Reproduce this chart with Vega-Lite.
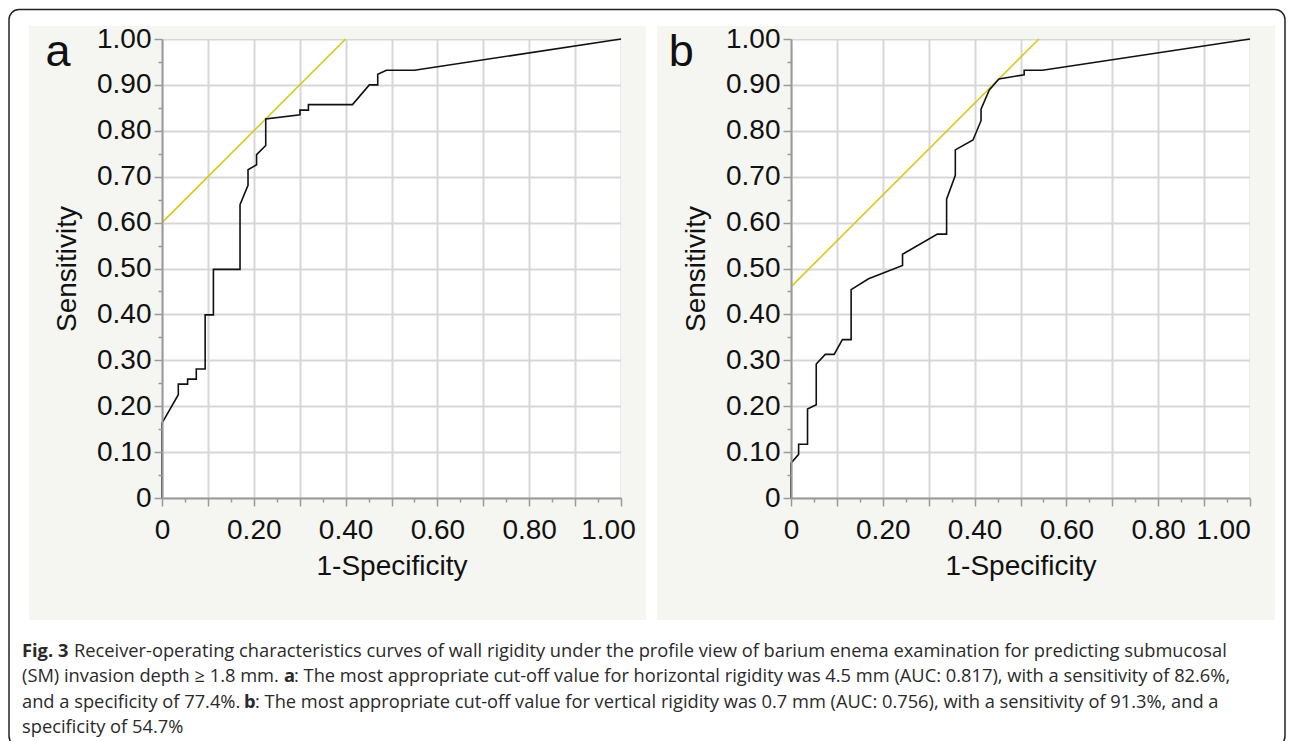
{
  "$schema": "https://vega.github.io/schema/vega-lite/v6.json",
  "background": "white",
  "padding": {"left": 8, "top": 8, "right": 8, "bottom": 0},
  "autosize": {"type": "pad"},
  "bounds": "flush",
  "columns": 2,
  "spacing": {"row": 123, "column": 170},
  "datasets": {
    "rocA": [
      {"step": 0, "fpr": 0, "tpr": 0},
      {"step": 1, "fpr": 0, "tpr": 0.163},
      {"step": 2, "fpr": 0.0355, "tpr": 0.225},
      {"step": 3, "fpr": 0.0355, "tpr": 0.248},
      {"step": 4, "fpr": 0.0558, "tpr": 0.248},
      {"step": 5, "fpr": 0.0558, "tpr": 0.259},
      {"step": 6, "fpr": 0.0747, "tpr": 0.259},
      {"step": 7, "fpr": 0.0747, "tpr": 0.281},
      {"step": 8, "fpr": 0.094, "tpr": 0.281},
      {"step": 9, "fpr": 0.094, "tpr": 0.399},
      {"step": 10, "fpr": 0.112, "tpr": 0.399},
      {"step": 11, "fpr": 0.112, "tpr": 0.498},
      {"step": 12, "fpr": 0.17, "tpr": 0.498},
      {"step": 13, "fpr": 0.17, "tpr": 0.639},
      {"step": 14, "fpr": 0.1874, "tpr": 0.681},
      {"step": 15, "fpr": 0.1874, "tpr": 0.715},
      {"step": 16, "fpr": 0.206, "tpr": 0.726},
      {"step": 17, "fpr": 0.206, "tpr": 0.748},
      {"step": 18, "fpr": 0.226, "tpr": 0.768},
      {"step": 19, "fpr": 0.226, "tpr": 0.826},
      {"step": 20, "fpr": 0.3006, "tpr": 0.835},
      {"step": 21, "fpr": 0.3006, "tpr": 0.845},
      {"step": 22, "fpr": 0.319, "tpr": 0.845},
      {"step": 23, "fpr": 0.319, "tpr": 0.857},
      {"step": 24, "fpr": 0.415, "tpr": 0.857},
      {"step": 25, "fpr": 0.4517, "tpr": 0.9},
      {"step": 26, "fpr": 0.47, "tpr": 0.9},
      {"step": 27, "fpr": 0.47, "tpr": 0.923},
      {"step": 28, "fpr": 0.489, "tpr": 0.932},
      {"step": 29, "fpr": 0.55, "tpr": 0.932},
      {"step": 30, "fpr": 1, "tpr": 1}
    ],
    "rocB": [
      {"step": 0, "fpr": 0, "tpr": 0},
      {"step": 1, "fpr": 0, "tpr": 0.076},
      {"step": 2, "fpr": 0.0166, "tpr": 0.095},
      {"step": 3, "fpr": 0.0166, "tpr": 0.117},
      {"step": 4, "fpr": 0.036, "tpr": 0.117},
      {"step": 5, "fpr": 0.036, "tpr": 0.194},
      {"step": 6, "fpr": 0.055, "tpr": 0.203},
      {"step": 7, "fpr": 0.055, "tpr": 0.292},
      {"step": 8, "fpr": 0.0747, "tpr": 0.313},
      {"step": 9, "fpr": 0.094, "tpr": 0.313},
      {"step": 10, "fpr": 0.112, "tpr": 0.345},
      {"step": 11, "fpr": 0.131, "tpr": 0.345},
      {"step": 12, "fpr": 0.131, "tpr": 0.454},
      {"step": 13, "fpr": 0.169, "tpr": 0.4775},
      {"step": 14, "fpr": 0.243, "tpr": 0.5065},
      {"step": 15, "fpr": 0.243, "tpr": 0.531},
      {"step": 16, "fpr": 0.319, "tpr": 0.575},
      {"step": 17, "fpr": 0.339, "tpr": 0.575},
      {"step": 18, "fpr": 0.339, "tpr": 0.651},
      {"step": 19, "fpr": 0.358, "tpr": 0.703},
      {"step": 20, "fpr": 0.358, "tpr": 0.7585},
      {"step": 21, "fpr": 0.3965, "tpr": 0.78},
      {"step": 22, "fpr": 0.414, "tpr": 0.822},
      {"step": 23, "fpr": 0.414, "tpr": 0.847},
      {"step": 24, "fpr": 0.432, "tpr": 0.889},
      {"step": 25, "fpr": 0.453, "tpr": 0.913},
      {"step": 26, "fpr": 0.508, "tpr": 0.922},
      {"step": 27, "fpr": 0.508, "tpr": 0.932},
      {"step": 28, "fpr": 0.548, "tpr": 0.932},
      {"step": 29, "fpr": 1, "tpr": 1}
    ],
    "cutA": [{"fpr": 0, "tpr": 0.6}, {"fpr": 0.4, "tpr": 1}],
    "cutB": [{"fpr": 0, "tpr": 0.46}, {"fpr": 0.54, "tpr": 1}],
    "panelA": [{"panel": "a"}],
    "panelB": [{"panel": "b"}],
    "frame": [{"part": "border"}],
    "caption": [
      {"line": 1, "seg": "b0", "text": "Fig. 3"},
      {"line": 1, "seg": "n1", "text": "Receiver-operating characteristics curves of wall rigidity under the profile view of barium enema examination for predicting submucosal"},
      {"line": 2, "seg": "n0", "text": "(SM) invasion depth ≥ 1.8 mm."},
      {"line": 2, "seg": "b2", "text": "a"},
      {"line": 2, "seg": "n3", "text": ": The most appropriate cut-off value for horizontal rigidity was 4.5 mm (AUC: 0.817), with a sensitivity of 82.6%,"},
      {"line": 3, "seg": "n0", "text": "and a specificity of 77.4%."},
      {"line": 3, "seg": "b4", "text": "b"},
      {"line": 3, "seg": "n5", "text": ": The most appropriate cut-off value for vertical rigidity was 0.7 mm (AUC: 0.756), with a sensitivity of 91.3%, and a"},
      {"line": 4, "seg": "n0", "text": "specificity of 54.7%"}
    ]
  },
  "concat": [
    {
      "width": 459,
      "height": 459,
      "layer": [
        {"data": {"name": "panelA"}, "mark": {"type": "rect", "fill": "#f5f5f1"},
         "encoding": {"x": {"datum": -0.2898, "type": "quantitative", "scale": {"domain": [0, 1]}, "axis": null}, "x2": {"datum": 0},
                      "y": {"datum": -0.2658, "type": "quantitative", "scale": {"domain": [0, 1]}, "axis": null}, "y2": {"datum": 1.0283}}},
        {"data": {"name": "panelA"}, "mark": {"type": "rect", "fill": "#f5f5f1"},
         "encoding": {"x": {"datum": 1, "type": "quantitative", "scale": {"domain": [0, 1]}, "axis": null}, "x2": {"datum": 1.0545},
                      "y": {"datum": -0.2658, "type": "quantitative", "scale": {"domain": [0, 1]}, "axis": null}, "y2": {"datum": 1.0283}}},
        {"data": {"name": "panelA"}, "mark": {"type": "rect", "fill": "#f5f5f1"},
         "encoding": {"x": {"datum": 0, "type": "quantitative", "scale": {"domain": [0, 1]}, "axis": null}, "x2": {"datum": 1},
                      "y": {"datum": 1, "type": "quantitative", "scale": {"domain": [0, 1]}, "axis": null}, "y2": {"datum": 1.0283}}},
        {"data": {"name": "panelA"}, "mark": {"type": "rect", "fill": "#f5f5f1"},
         "encoding": {"x": {"datum": 0, "type": "quantitative", "scale": {"domain": [0, 1]}, "axis": null}, "x2": {"datum": 1},
                      "y": {"datum": -0.2658, "type": "quantitative", "scale": {"domain": [0, 1]}, "axis": null}, "y2": {"datum": 0}}},
        {"data": {"name": "cutA"}, "mark": {"type": "line", "color": "#d9c817", "strokeWidth": 1.6},
         "encoding": {
           "x": {"field": "fpr", "type": "quantitative", "scale": {"domain": [0, 1], "nice": false},
                 "axis": {"orient": "bottom", "values": [0, 0.1, 0.2, 0.3, 0.4, 0.5, 0.6, 0.7, 0.8, 0.9, 1], "grid": true, "gridColor": "#d7d7d7", "gridWidth": 2, "labels": false, "ticks": false, "domain": false, "title": null, "zindex": 0}},
           "y": {"field": "tpr", "type": "quantitative", "scale": {"domain": [0, 1], "nice": false},
                 "axis": {"orient": "left", "values": [0, 0.1, 0.2, 0.3, 0.4, 0.5, 0.6, 0.7, 0.8, 0.9, 1], "grid": true, "gridColor": "#d7d7d7", "gridWidth": 2, "labels": false, "ticks": false, "domain": false, "title": null, "zindex": 0}}
         }},
        {"data": {"name": "rocA"}, "mark": {"type": "line", "color": "#111111", "strokeWidth": 1.6},
         "encoding": {
           "x": {"field": "fpr", "type": "quantitative", "scale": {"domain": [0, 1], "nice": false},
                 "axis": {"orient": "bottom", "values": [0, 0.1, 0.2, 0.3, 0.4, 0.5, 0.6, 0.7, 0.8, 0.9, 1], "grid": false, "tickSize": 8, "tickWidth": 1.5, "domainWidth": 2, "labelPadding": 10, "labelFlush": false, "labelOverlap": false,
                          "labelExpr": "datum.value == 0 ? '0' : (abs(datum.value*10 - 2*round(datum.value*5)) < 0.01 ? format(datum.value, '.2f') : '')",
                          "labelOffset": {"condition": {"test": "datum.value == 1", "value": -13}, "value": 0},
                          "title": "1-Specificity", "titlePadding": 8, "zindex": 1}},
           "y": {"field": "tpr", "type": "quantitative", "scale": {"domain": [0, 1], "nice": false},
                 "axis": {"orient": "left", "values": [0, 0.1, 0.2, 0.3, 0.4, 0.5, 0.6, 0.7, 0.8, 0.9, 1], "grid": false, "tickSize": 8, "tickWidth": 1.5, "domainWidth": 2, "labelPadding": 3, "labelFlush": false, "labelOverlap": false,
                          "labelExpr": "datum.value == 0 ? '0' : format(datum.value, '.2f')",
                          "title": "Sensitivity", "titlePadding": 15, "zindex": 1}},
           "order": {"field": "step", "type": "quantitative"}
         }},
        {"data": {"name": "panelA"}, "mark": {"type": "text", "font": "Liberation Sans", "fontSize": 45, "align": "left", "baseline": "alphabetic", "color": "#111111"},
         "encoding": {
           "x": {"datum": -0.2538, "type": "quantitative", "scale": {"domain": [0, 1]},
                 "axis": {"orient": "bottom", "values": [0.05, 0.15, 0.25, 0.35, 0.45, 0.55, 0.65, 0.75, 0.85, 0.95], "grid": false, "tickSize": 4, "tickWidth": 1.5, "labels": false, "domain": false, "title": null, "zindex": 1}},
           "y": {"datum": 0.941, "type": "quantitative", "scale": {"domain": [0, 1]},
                 "axis": {"orient": "left", "values": [0.05, 0.15, 0.25, 0.35, 0.45, 0.55, 0.65, 0.75, 0.85, 0.95], "grid": false, "tickSize": 4, "tickWidth": 1.5, "labels": false, "domain": false, "title": null, "zindex": 1}},
           "text": {"field": "panel"}
         }}
      ],
      "resolve": {"axis": {"x": "independent", "y": "independent"}}
    },
    {
      "width": 459,
      "height": 459,
      "layer": [
        {"data": {"name": "panelB"}, "mark": {"type": "rect", "fill": "#f5f5f1"},
         "encoding": {"x": {"datum": -0.2919, "type": "quantitative", "scale": {"domain": [0, 1]}, "axis": null}, "x2": {"datum": 0},
                      "y": {"datum": -0.2658, "type": "quantitative", "scale": {"domain": [0, 1]}, "axis": null}, "y2": {"datum": 1.0283}}},
        {"data": {"name": "panelB"}, "mark": {"type": "rect", "fill": "#f5f5f1"},
         "encoding": {"x": {"datum": 1, "type": "quantitative", "scale": {"domain": [0, 1]}, "axis": null}, "x2": {"datum": 1.0545},
                      "y": {"datum": -0.2658, "type": "quantitative", "scale": {"domain": [0, 1]}, "axis": null}, "y2": {"datum": 1.0283}}},
        {"data": {"name": "panelB"}, "mark": {"type": "rect", "fill": "#f5f5f1"},
         "encoding": {"x": {"datum": 0, "type": "quantitative", "scale": {"domain": [0, 1]}, "axis": null}, "x2": {"datum": 1},
                      "y": {"datum": 1, "type": "quantitative", "scale": {"domain": [0, 1]}, "axis": null}, "y2": {"datum": 1.0283}}},
        {"data": {"name": "panelB"}, "mark": {"type": "rect", "fill": "#f5f5f1"},
         "encoding": {"x": {"datum": 0, "type": "quantitative", "scale": {"domain": [0, 1]}, "axis": null}, "x2": {"datum": 1},
                      "y": {"datum": -0.2658, "type": "quantitative", "scale": {"domain": [0, 1]}, "axis": null}, "y2": {"datum": 0}}},
        {"data": {"name": "cutB"}, "mark": {"type": "line", "color": "#d9c817", "strokeWidth": 1.6},
         "encoding": {
           "x": {"field": "fpr", "type": "quantitative", "scale": {"domain": [0, 1], "nice": false},
                 "axis": {"orient": "bottom", "values": [0, 0.1, 0.2, 0.3, 0.4, 0.5, 0.6, 0.7, 0.8, 0.9, 1], "grid": true, "gridColor": "#d7d7d7", "gridWidth": 2, "labels": false, "ticks": false, "domain": false, "title": null, "zindex": 0}},
           "y": {"field": "tpr", "type": "quantitative", "scale": {"domain": [0, 1], "nice": false},
                 "axis": {"orient": "left", "values": [0, 0.1, 0.2, 0.3, 0.4, 0.5, 0.6, 0.7, 0.8, 0.9, 1], "grid": true, "gridColor": "#d7d7d7", "gridWidth": 2, "labels": false, "ticks": false, "domain": false, "title": null, "zindex": 0}}
         }},
        {"data": {"name": "rocB"}, "mark": {"type": "line", "color": "#111111", "strokeWidth": 1.6},
         "encoding": {
           "x": {"field": "fpr", "type": "quantitative", "scale": {"domain": [0, 1], "nice": false},
                 "axis": {"orient": "bottom", "values": [0, 0.1, 0.2, 0.3, 0.4, 0.5, 0.6, 0.7, 0.8, 0.9, 1], "grid": false, "tickSize": 8, "tickWidth": 1.5, "domainWidth": 2, "labelPadding": 10, "labelFlush": false, "labelOverlap": false,
                          "labelExpr": "datum.value == 0 ? '0' : (abs(datum.value*10 - 2*round(datum.value*5)) < 0.01 ? format(datum.value, '.2f') : '')",
                          "labelOffset": {"condition": {"test": "datum.value == 1", "value": -27}, "value": 0},
                          "title": "1-Specificity", "titlePadding": 8, "zindex": 1}},
           "y": {"field": "tpr", "type": "quantitative", "scale": {"domain": [0, 1], "nice": false},
                 "axis": {"orient": "left", "values": [0, 0.1, 0.2, 0.3, 0.4, 0.5, 0.6, 0.7, 0.8, 0.9, 1], "grid": false, "tickSize": 8, "tickWidth": 1.5, "domainWidth": 2, "labelPadding": 3, "labelFlush": false, "labelOverlap": false,
                          "labelExpr": "datum.value == 0 ? '0' : format(datum.value, '.2f')",
                          "title": "Sensitivity", "titlePadding": 15, "zindex": 1}},
           "order": {"field": "step", "type": "quantitative"}
         }},
        {"data": {"name": "panelB"}, "mark": {"type": "text", "font": "Liberation Sans", "fontSize": 45, "align": "left", "baseline": "alphabetic", "color": "#111111"},
         "encoding": {
           "x": {"datum": -0.2664, "type": "quantitative", "scale": {"domain": [0, 1]},
                 "axis": {"orient": "bottom", "values": [0.05, 0.15, 0.25, 0.35, 0.45, 0.55, 0.65, 0.75, 0.85, 0.95], "grid": false, "tickSize": 4, "tickWidth": 1.5, "labels": false, "domain": false, "title": null, "zindex": 1}},
           "y": {"datum": 0.941, "type": "quantitative", "scale": {"domain": [0, 1]},
                 "axis": {"orient": "left", "values": [0.05, 0.15, 0.25, 0.35, 0.45, 0.55, 0.65, 0.75, 0.85, 0.95], "grid": false, "tickSize": 4, "tickWidth": 1.5, "labels": false, "domain": false, "title": null, "zindex": 1}},
           "text": {"field": "panel"}
         }}
      ],
      "resolve": {"axis": {"x": "independent", "y": "independent"}}
    },
    {
      "width": 459,
      "height": 115,
      "layer": [
        {"data": {"name": "frame"}, "mark": {"type": "rect", "filled": false, "stroke": "#222222", "strokeWidth": 1.5, "cornerRadius": 10},
         "encoding": {"x": {"datum": -0.3333, "type": "quantitative", "scale": {"domain": [0, 1]}, "axis": null}, "x2": {"datum": 2.4466},
                      "y": {"datum": -24.395, "type": "quantitative", "scale": {"domain": [-0.2253, 4.3202], "reverse": true}, "axis": null}, "y2": {"datum": 4.7154}}},
        {"data": {"name": "caption"}, "transform": [{"filter": {"field": "seg", "equal": "b0"}}],
         "mark": {"type": "text", "font": "Open Sans", "fontSize": 18.3, "fontWeight": "bold", "align": "left", "baseline": "middle", "color": "#2a2a2a"},
         "encoding": {"x": {"datum": -0.305, "type": "quantitative", "scale": {"domain": [0, 1]}, "axis": null},
                      "y": {"field": "line", "type": "quantitative", "scale": {"domain": [-0.2253, 4.3202], "reverse": true}, "axis": null},
                      "text": {"field": "text"}}},
        {"data": {"name": "caption"}, "transform": [{"filter": {"field": "seg", "equal": "n1"}}],
         "mark": {"type": "text", "font": "Open Sans", "fontSize": 18.3, "align": "left", "baseline": "middle", "color": "#2a2a2a", "dx": 52},
         "encoding": {"x": {"datum": -0.305, "type": "quantitative", "scale": {"domain": [0, 1]}, "axis": null},
                      "y": {"field": "line", "type": "quantitative", "scale": {"domain": [-0.2253, 4.3202], "reverse": true}, "axis": null},
                      "text": {"field": "text"}}},
        {"data": {"name": "caption"}, "transform": [{"filter": {"field": "seg", "equal": "n0"}}],
         "mark": {"type": "text", "font": "Open Sans", "fontSize": 18.3, "align": "left", "baseline": "middle", "color": "#2a2a2a"},
         "encoding": {"x": {"datum": -0.305, "type": "quantitative", "scale": {"domain": [0, 1]}, "axis": null},
                      "y": {"field": "line", "type": "quantitative", "scale": {"domain": [-0.2253, 4.3202], "reverse": true}, "axis": null},
                      "text": {"field": "text"}}},
        {"data": {"name": "caption"}, "transform": [{"filter": {"field": "seg", "equal": "b2"}}],
         "mark": {"type": "text", "font": "Open Sans", "fontSize": 18.3, "fontWeight": "bold", "align": "left", "baseline": "middle", "color": "#2a2a2a", "dx": 262},
         "encoding": {"x": {"datum": -0.305, "type": "quantitative", "scale": {"domain": [0, 1]}, "axis": null},
                      "y": {"field": "line", "type": "quantitative", "scale": {"domain": [-0.2253, 4.3202], "reverse": true}, "axis": null},
                      "text": {"field": "text"}}},
        {"data": {"name": "caption"}, "transform": [{"filter": {"field": "seg", "equal": "n3"}}],
         "mark": {"type": "text", "font": "Open Sans", "fontSize": 18.3, "align": "left", "baseline": "middle", "color": "#2a2a2a", "dx": 272},
         "encoding": {"x": {"datum": -0.305, "type": "quantitative", "scale": {"domain": [0, 1]}, "axis": null},
                      "y": {"field": "line", "type": "quantitative", "scale": {"domain": [-0.2253, 4.3202], "reverse": true}, "axis": null},
                      "text": {"field": "text"}}},
        {"data": {"name": "caption"}, "transform": [{"filter": {"field": "seg", "equal": "b4"}}],
         "mark": {"type": "text", "font": "Open Sans", "fontSize": 18.3, "fontWeight": "bold", "align": "left", "baseline": "middle", "color": "#2a2a2a", "dx": 222},
         "encoding": {"x": {"datum": -0.305, "type": "quantitative", "scale": {"domain": [0, 1]}, "axis": null},
                      "y": {"field": "line", "type": "quantitative", "scale": {"domain": [-0.2253, 4.3202], "reverse": true}, "axis": null},
                      "text": {"field": "text"}}},
        {"data": {"name": "caption"}, "transform": [{"filter": {"field": "seg", "equal": "n5"}}],
         "mark": {"type": "text", "font": "Open Sans", "fontSize": 18.3, "align": "left", "baseline": "middle", "color": "#2a2a2a", "dx": 233},
         "encoding": {"x": {"datum": -0.305, "type": "quantitative", "scale": {"domain": [0, 1]}, "axis": null},
                      "y": {"field": "line", "type": "quantitative", "scale": {"domain": [-0.2253, 4.3202], "reverse": true}, "axis": null},
                      "text": {"field": "text"}}}
      ]
    }
  ],
  "config": {
    "view": {"stroke": null, "fill": "white"},
    "axis": {
      "labelFont": "Liberation Sans", "labelFontSize": 28, "labelColor": "#111111",
      "titleFont": "Liberation Sans", "titleFontSize": 28, "titleFontWeight": "normal", "titleColor": "#111111",
      "tickColor": "#999999", "domainColor": "#999999"
    }
  }
}
